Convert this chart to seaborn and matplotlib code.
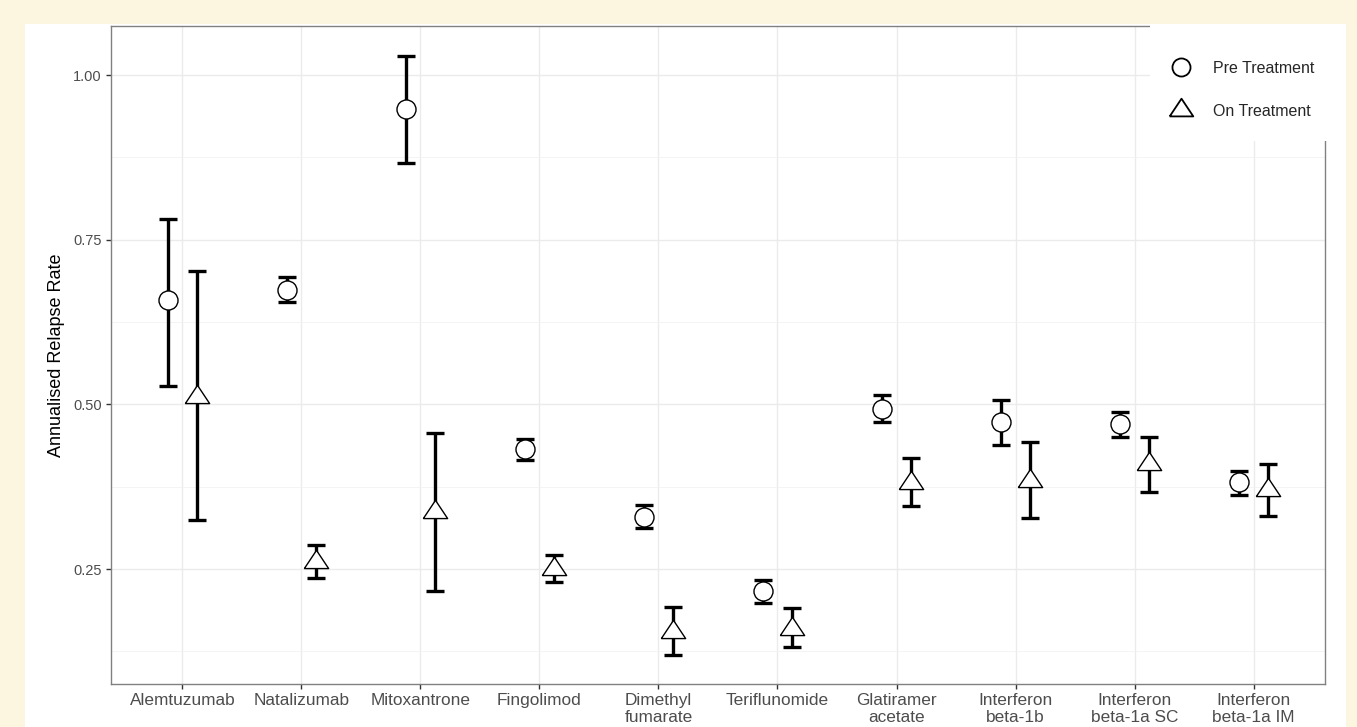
import numpy as np
import pandas as pd
import matplotlib
matplotlib.use('Agg')
import matplotlib.pyplot as plt
from matplotlib.lines import Line2D
from matplotlib.patches import Rectangle
import seaborn as sns

# 数据：年化复发率（治疗前 / 治疗中）及置信区间
drugs = ['Alemtuzumab', 'Natalizumab', 'Mitoxantrone', 'Fingolimod',
         'Dimethyl\nfumarate', 'Teriflunomide', 'Glatiramer\nacetate',
         'Interferon\nbeta-1b', 'Interferon\nbeta-1a SC', 'Interferon\nbeta-1a IM']
phases = ['Pre Treatment', 'On Treatment']

pre_rate = [0.658, 0.674, 0.949, 0.432, 0.329, 0.216, 0.493, 0.474, 0.470, 0.382]
pre_lower = [0.528, 0.655, 0.866, 0.416, 0.312, 0.199, 0.473, 0.438, 0.451, 0.362]
pre_upper = [0.781, 0.693, 1.029, 0.448, 0.348, 0.233, 0.514, 0.506, 0.489, 0.399]

on_rate = [0.511, 0.261, 0.337, 0.250, 0.154, 0.159, 0.381, 0.384, 0.409, 0.370]
on_lower = [0.324, 0.236, 0.217, 0.230, 0.119, 0.132, 0.346, 0.327, 0.367, 0.331]
on_upper = [0.702, 0.286, 0.457, 0.272, 0.193, 0.191, 0.418, 0.443, 0.451, 0.409]

y_ticks = [0.25, 0.50, 0.75, 1.00]
y_minor = [0.125, 0.375, 0.625, 0.875]
y_tick_labels = ['0.25', '0.50', '0.75', '1.00']

df = pd.DataFrame({
    'drug': drugs * 2,
    'phase': [phases[0]] * len(drugs) + [phases[1]] * len(drugs),
    'rate': pre_rate + on_rate,
    'lower': pre_lower + on_lower,
    'upper': pre_upper + on_upper,
})

sns.set_theme(style='white')
plt.rcParams['font.family'] = ['Liberation Sans', 'DejaVu Sans']

fig = plt.figure(figsize=(13.57, 7.27), dpi=100, facecolor='#FCF6E1')
fig.add_artist(Rectangle((0.0184, 0.0), 0.9735, 0.967, transform=fig.transFigure,
                         facecolor='white', edgecolor='none', zorder=-1))
ax = fig.add_axes([0.0818, 0.0591, 0.8946, 0.9051])
ax.set_facecolor('white')

# 三角形标记（质心在数据点上）
tri = [(-1.0, -0.5), (1.0, -0.5), (0.0, 1.0), (-1.0, -0.5)]

sns.pointplot(data=df, x='drug', y='rate', hue='phase', order=drugs,
              hue_order=phases, dodge=0.25, linestyle='none',
              errorbar=None, palette=['black', 'black'], ax=ax, legend=False)

marker_styles = {phases[0]: ('o', 13.7), phases[1]: (tri, 17.5)}
for line, ph in zip(ax.lines[:2], phases):
    mk, ms = marker_styles[ph]
    line.set_marker(mk)
    line.set_markersize(ms)
    line.set_markerfacecolor('white')
    line.set_markeredgecolor('black')
    line.set_markeredgewidth(1.0)
    line.set_zorder(4)

    sub = df[df['phase'] == ph].set_index('drug').loc[drugs]
    xs = line.get_xdata()
    ax.errorbar(xs, sub['rate'],
                yerr=[sub['rate'] - sub['lower'], sub['upper'] - sub['rate']],
                fmt='none', ecolor='black', elinewidth=2.4, capsize=6.5,
                capthick=2.4, zorder=3)

ax.set_xlim(-0.6, len(drugs) - 0.4)
ax.set_ylim(0.0755, 1.0744)
ax.set_yticks(y_ticks)
ax.set_yticklabels(y_tick_labels)
ax.set_yticks(y_minor, minor=True)

ax.grid(True, which='major', color='#EBEBEB', linewidth=1.0)
ax.grid(True, which='minor', axis='y', color='#F2F2F2', linewidth=0.6)
ax.set_axisbelow(True)

for sp in ax.spines.values():
    sp.set_color('#808080')
    sp.set_linewidth(1.0)

ax.tick_params(axis='both', which='major', length=3.5, width=1.0, color='#333333',
               labelcolor='#4D4D4D', bottom=True, left=True)
ax.tick_params(axis='y', which='minor', length=0)
ax.tick_params(axis='x', labelsize=12.4, pad=3)
ax.tick_params(axis='y', labelsize=10.5, pad=3)
for lab in ax.get_xticklabels():
    lab.set_linespacing(1.12)

ax.set_xlabel('')
ax.set_ylabel('Annualised Relapse Rate', fontsize=13, color='black', labelpad=6)

# 图例（白色背景遮住面板右上角）
fig.add_artist(Rectangle((0.8474, 0.8061), 0.1444, 0.161, transform=fig.transFigure,
                         facecolor='white', edgecolor='none', zorder=4))
handles = [
    Line2D([], [], linestyle='none', marker='o', markersize=13, markerfacecolor='white',
           markeredgecolor='black', markeredgewidth=1.3),
    Line2D([], [], linestyle='none', marker=tri, markersize=17, markerfacecolor='white',
           markeredgecolor='black', markeredgewidth=1.3),
]
fig.legend(handles, phases, loc='upper left', bbox_to_anchor=(0.853, 0.927),
           frameon=False, fontsize=11.5, handlelength=2.0, handletextpad=1.0,
           labelspacing=1.75, borderpad=0.0)

fig.savefig('out.png', dpi=100, facecolor=fig.get_facecolor())
